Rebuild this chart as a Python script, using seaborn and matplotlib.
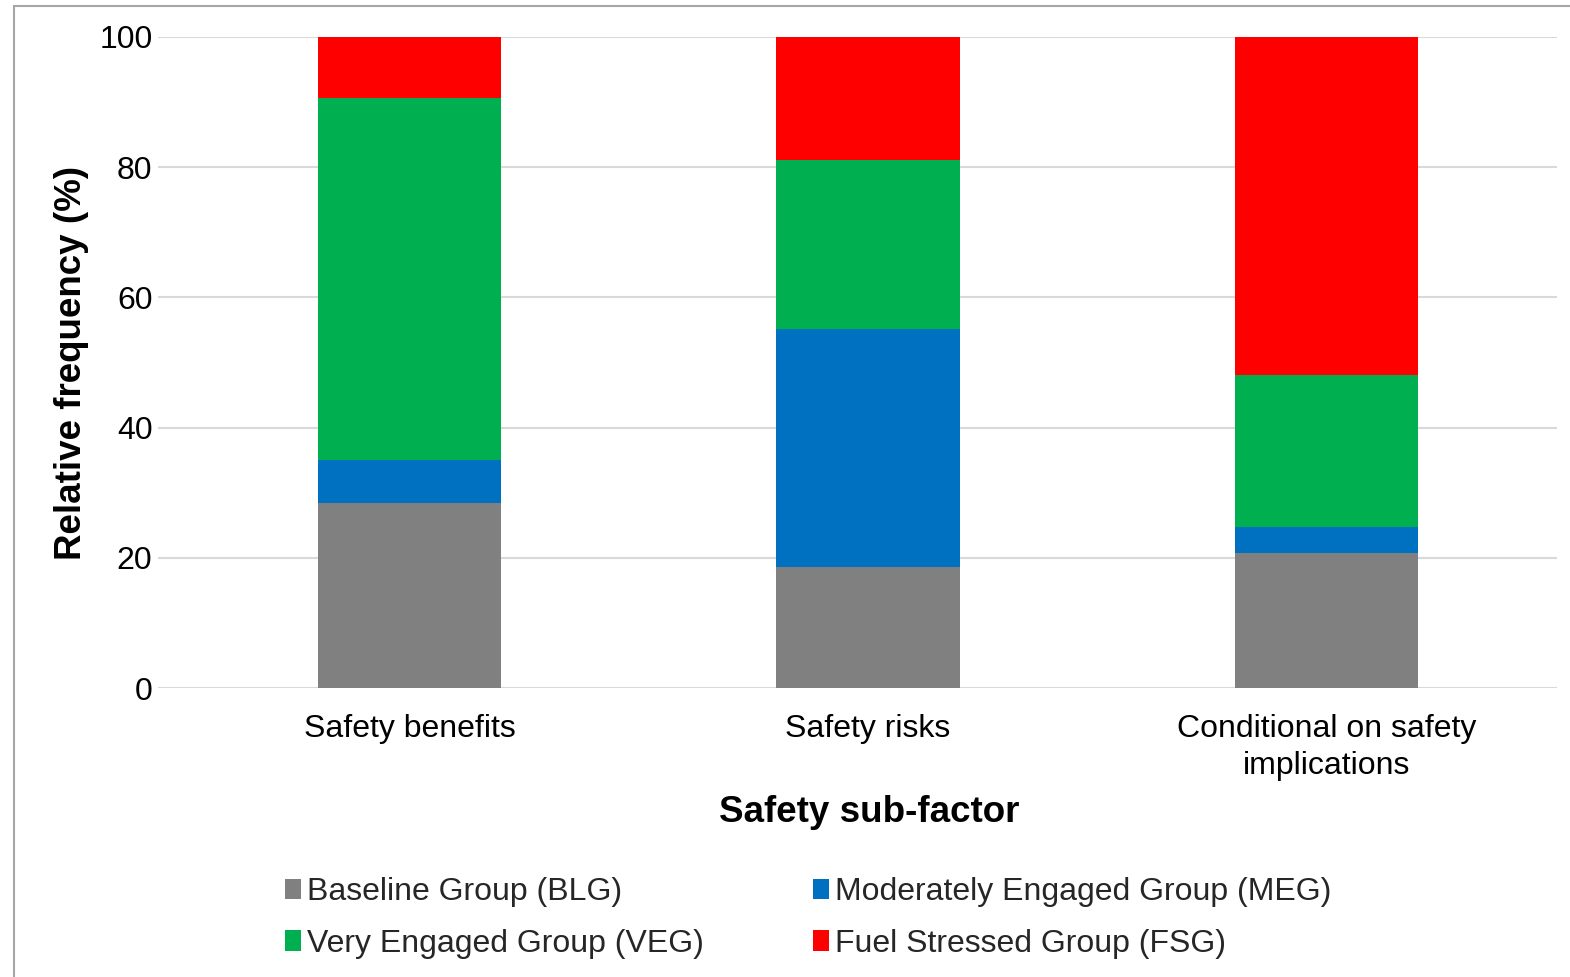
import matplotlib
matplotlib.use("Agg")
import matplotlib.pyplot as plt
from matplotlib.patches import Patch, Rectangle
import seaborn as sns
import numpy as np

# Relative frequency (%) of each group within each safety sub-factor
categories = ["Safety benefits", "Safety risks", "Conditional on safety\nimplications"]
groups = ["Baseline Group (BLG)", "Moderately Engaged Group (MEG)",
          "Very Engaged Group (VEG)", "Fuel Stressed Group (FSG)"]
blg = [28.4, 18.6, 20.8]
meg = [6.6, 36.5, 4.0]
veg = [55.7, 26.0, 23.3]
fsg = [9.3, 18.9, 51.9]
colors = ["#808080", "#0070C0", "#00B050", "#FF0000"]
yticks = [0, 20, 40, 60, 80, 100]

sns.set_theme(style="white")
plt.rcParams["font.family"] = ["Liberation Sans", "DejaVu Sans"]

fig = plt.figure(figsize=(15.70, 9.77), dpi=100)
ax = fig.add_axes([158 / 1570, 1 - 688 / 977, 1399 / 1570, 651 / 977])

# stacked bars, one layer per group
bottom = np.zeros(len(categories))
for name, vals, col in zip(groups, [blg, meg, veg, fsg], colors):
    sns.barplot(x=categories, y=vals, bottom=bottom, color=col, width=0.4,
                saturation=1, edgecolor="none", linewidth=0, ax=ax, zorder=3)
    bottom = bottom + np.array(vals)

ax.set_xlim(-0.549, 2.503)
ax.set_ylim(0, 100)
ax.set_yticks(yticks)
ax.set_yticklabels([str(t) for t in yticks])
ax.yaxis.grid(True, color="#D9D9D9", linewidth=1.5, zorder=0)
ax.xaxis.grid(False)
ax.set_axisbelow(True)
for s in ax.spines.values():
    s.set_visible(False)
ax.tick_params(axis="y", length=0, pad=4, labelsize=23, labelcolor="black")
ax.tick_params(axis="x", length=0, pad=19, labelsize=23, labelcolor="black")
for lbl in ax.get_xticklabels():
    lbl.set_linespacing(1.3)

ax.set_xlabel("Safety sub-factor", fontsize=26.5, fontweight="bold", color="black", va="center")
ax.xaxis.set_label_coords((869 - 158) / 1399, (688 - 813) / 651)
ax.set_ylabel("Relative frequency (%)", fontsize=26.5, fontweight="bold", color="black", va="center")
ax.yaxis.set_label_coords((72 - 158) / 1399, (688 - 363) / 651)

handles = [Patch(facecolor=c, edgecolor="none") for c in colors]
order = [0, 2, 1, 3]
fig.legend([handles[i] for i in order], [groups[i] for i in order],
           ncol=2, loc="center", bbox_to_anchor=(808 / 1570, 1 - 918 / 977),
           frameon=False, fontsize=23, handlelength=0.5, handleheight=0.6,
           handletextpad=0.2, columnspacing=3.4, labelspacing=0.68)

# chart-area outline
fig.add_artist(Rectangle((14 / 1570, -0.05), 1.1, 1.05 - 6 / 977, transform=fig.transFigure,
                         fill=False, edgecolor="#A6A6A6", linewidth=1.5))

fig.savefig("out.png", dpi=100)
